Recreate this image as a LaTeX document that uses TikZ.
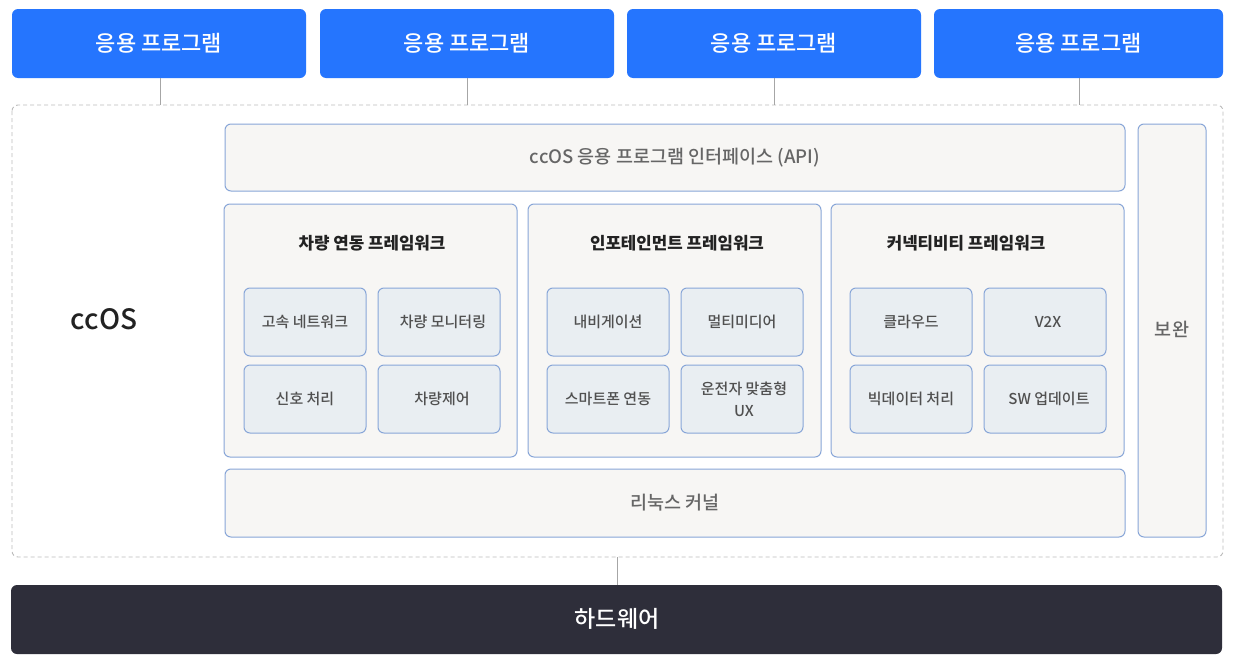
\documentclass[tikz,border=0pt]{standalone}
\usepackage{fontspec}
\setmainfont{Noto Sans CJK KR}
\newfontfamily\medfont{Noto Sans CJK KR Medium}
\definecolor{appblue}{HTML}{2575FE}
\definecolor{hwdark}{HTML}{2E2E3A}
\definecolor{boxfill}{HTML}{F7F6F4}
\definecolor{boxline}{HTML}{88A6D8}
\definecolor{innerfill}{HTML}{E9EEF2}
\definecolor{dashgray}{HTML}{BBBBBB}
\definecolor{txtgray}{HTML}{666666}
\definecolor{txtdark}{HTML}{222222}
\definecolor{txtinner}{HTML}{505050}
\begin{document}
\begin{tikzpicture}[x=1pt,y=-1pt,
  appbox/.style={fill=appblue,draw=none,rounded corners=6pt},
  panel/.style={fill=boxfill,draw=boxline,line width=1pt,rounded corners=6pt},
  innerbox/.style={fill=innerfill,draw=boxline,line width=1pt,rounded corners=6pt},
  link/.style={draw=black!35,line width=0.9pt},
  apptxt/.style={text=white,font=\medfont\fontsize{22}{26}\selectfont},
  paneltxt/.style={text=txtgray,font=\medfont\fontsize{18.5}{22}\selectfont},
  titletxt/.style={text=txtdark,font=\bfseries\fontsize{16.8}{20}\selectfont},
  innertxt/.style={text=txtinner,font=\medfont\fontsize{15}{19}\selectfont,align=center}]
\useasboundingbox (0,0) rectangle (1240,664);
\fill[white] (0,0) rectangle (1240,664);
% top app boxes
\foreach \i/\a/\b in {1/12/306,2/320/614,3/627/921,4/934/1223}{
  \path[appbox] (\a,9) rectangle (\b,78);
  \node[apptxt] (app\i) at ({(\a+\b)/2},43) {응용 프로그램};
}
% outer dashed ccOS region
\draw[dashgray,line width=0.9pt,dash pattern=on 4pt off 3pt,rounded corners=6pt] (12,105) rectangle (1223,557);
\coordinate (os1) at (160,105);
\coordinate (os2) at (467,105);
\coordinate (os3) at (774,105);
\coordinate (os4) at (1079,105);
\draw[link] (160,78) -- (os1);
\draw[link] (467,78) -- (os2);
\draw[link] (774,78) -- (os3);
\draw[link] (1079,78) -- (os4);
\node[text=txtdark,font=\medfont\fontsize{28}{32}\selectfont] (ccos) at (104,319) {ccOS};
% API
\path[panel] (225,124) rectangle (1125,191);
\node[paneltxt] (api) at (675,158) {ccOS 응용 프로그램 인터페이스 (API)};
% security
\path[panel] (1138,124) rectangle (1206,537);
\node[paneltxt] (sec) at (1172,329) {보완};
% frameworks
\path[panel] (224,204) rectangle (517,457);
\path[panel] (528,204) rectangle (821,457);
\path[panel] (831,204) rectangle (1124,457);
\node[titletxt] (fw1) at (372,243) {차량 연동 프레임워크};
\node[titletxt] (fw2) at (677,243) {인포테인먼트 프레임워크};
\node[titletxt] (fw3) at (966,243) {커넥티비티 프레임워크};
% inner boxes
\foreach \a in {244,378,547,681,850,984}{
  \path[innerbox] (\a,288) rectangle (\a+122,356);
  \path[innerbox] (\a,365) rectangle (\a+122,433);
}
\node[innertxt] (n1) at (305,322) {고속 네트워크};
\node[innertxt] (n2) at (443,322) {차량 모니터링};
\node[innertxt] (n3) at (305,399) {신호 처리};
\node[innertxt] (n4) at (442,399) {차량제어};
\node[innertxt] (n5) at (608,322) {내비게이션};
\node[innertxt] (n6) at (742,322) {멀티미디어};
\node[innertxt] (n7) at (608,399) {스마트폰 연동};
\node[innertxt,font=\medfont\fontsize{15}{22}\selectfont] (n8) at (744,399) {운전자 맞춤형\\UX};
\node[innertxt] (n9) at (911,322) {클라우드};
\node[innertxt] (n10) at (1048,322) {V2X};
\node[innertxt] (n11) at (911,399) {빅데이터 처리};
\node[innertxt] (n12) at (1049,399) {SW 업데이트};
% linux kernel
\path[panel] (225,469) rectangle (1125,537);
\node[paneltxt] (kernel) at (675,503) {리눅스 커널};
% hardware
\path[fill=hwdark,rounded corners=6pt] (11,585) rectangle (1222,654);
\node[text=white,font=\medfont\fontsize{23}{27}\selectfont] (hw) at (617,619) {하드웨어};
\coordinate (osb) at (617,557);
\draw[link] (osb) -- (617,585);
\end{tikzpicture}
\end{document}
